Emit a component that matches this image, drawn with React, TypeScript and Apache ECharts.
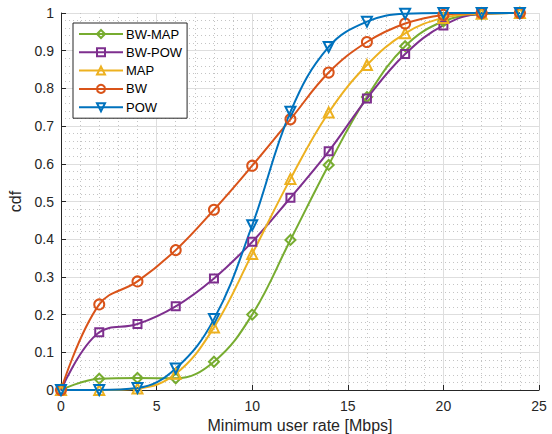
import React, { useEffect, useRef } from "react";
import * as echarts from "echarts";

const rates = [0, 2, 4, 6, 8, 10, 12, 14, 16, 18, 20, 22, 24];
const bwMap = [0, 0.03, 0.032, 0.031, 0.075, 0.2, 0.398, 0.597, 0.777, 0.912, 0.978, 0.997, 1.0];
const bwPow = [0, 0.153, 0.175, 0.222, 0.296, 0.393, 0.51, 0.633, 0.773, 0.891, 0.967, 0.998, 1.0];
const mapVals = [0, 0.0, 0.004, 0.043, 0.166, 0.361, 0.56, 0.736, 0.862, 0.946, 0.987, 0.998, 1.0];
const bwVals = [0, 0.227, 0.288, 0.371, 0.478, 0.595, 0.718, 0.842, 0.923, 0.972, 0.995, 1.0, 1.0];
const powVals = [0, 0, 0.005, 0.057, 0.188, 0.437, 0.738, 0.91, 0.977, 0.998, 1.0, 1.0, 1.0];

const seriesDefs = [
  { name: "BW-MAP", data: bwMap, color: "#77AC30", symbol: "diamond", size: 10, rotate: 0 },
  { name: "BW-POW", data: bwPow, color: "#7E2F8E", symbol: "rect", size: 8, rotate: 0 },
  { name: "MAP", data: mapVals, color: "#EDB120", symbol: "triangle", size: 10, rotate: 0 },
  { name: "BW", data: bwVals, color: "#D95319", symbol: "circle", size: 10, rotate: 0 },
  { name: "POW", data: powVals, color: "#0072BD", symbol: "triangle", size: 10, rotate: 180 },
];

const FONT = "Liberation Sans, Arial, Helvetica, sans-serif";
const AX = "#262626";

export default function App() {
  const ref = useRef<HTMLDivElement>(null);
  useEffect(() => {
    if (!ref.current) return;
    const chart = echarts.init(ref.current, undefined, { renderer: "svg" });
    chart.setOption({
      animation: false,
      backgroundColor: "#ffffff",
      grid: { left: 61, right: 13, top: 13, bottom: 44, containLabel: false, outerBoundsMode: "none" },
      legend: {
        orient: "vertical",
        left: 73,
        top: 23,
        padding: [4, 5, 4, 5],
        itemGap: 4.3,
        itemWidth: 44,
        itemHeight: 10,
        backgroundColor: "#ffffff",
        borderColor: AX,
        borderWidth: 1,
        borderRadius: 0,
        textStyle: { fontFamily: FONT, fontSize: 13, lineHeight: 14, color: "#000", padding: [0, 0, 0, -2] },
        data: seriesDefs.map((s) => s.name),
      },
      xAxis: {
        type: "value",
        min: 0,
        max: 25,
        interval: 5,
        name: "Minimum user rate [Mbps]",
        nameLocation: "middle",
        nameGap: 27,
        nameTextStyle: { fontFamily: FONT, fontSize: 16, color: AX },
        axisLine: { show: true, onZero: false, lineStyle: { color: AX, width: 1 } },
        axisTick: { show: true, inside: true, length: 5, lineStyle: { color: AX } },
        axisLabel: { fontFamily: FONT, fontSize: 14, color: AX, margin: 9 },
        splitLine: { show: true, lineStyle: { color: "#dedede", width: 1 } },
        minorTick: { show: false, splitNumber: 5 },
        minorSplitLine: { show: true, lineStyle: { color: "#c4c4c4", width: 1, type: [1, 3] } },
      },
      yAxis: {
        type: "value",
        min: 0,
        max: 1,
        interval: 0.1,
        name: "cdf",
        nameLocation: "middle",
        nameGap: 31,
        nameTextStyle: { fontFamily: FONT, fontSize: 16, color: AX },
        axisLine: { show: true, onZero: false, lineStyle: { color: AX, width: 1 } },
        axisTick: { show: true, inside: true, length: 5, lineStyle: { color: AX } },
        axisLabel: { fontFamily: FONT, fontSize: 14, color: AX, margin: 7 },
        splitLine: { show: true, lineStyle: { color: "#dedede", width: 1 } },
        minorTick: { show: false, splitNumber: 5 },
        minorSplitLine: { show: true, lineStyle: { color: "#c4c4c4", width: 1, type: [1, 3] } },
      },
      series: seriesDefs.map((s) => ({
        name: s.name,
        type: "line",
        smooth: 0.4,
        data: rates.map((x, i) => [x, s.data[i]]),
        symbol: s.symbol,
        symbolSize: s.size,
        symbolRotate: s.rotate,
        showAllSymbol: true,
        color: s.color,
        lineStyle: { color: s.color, width: 2 },
        itemStyle: { color: "rgba(255,255,255,0)", borderColor: s.color, borderWidth: 2 },
        emphasis: { disabled: true },
      })),
    });
    return () => chart.dispose();
  }, []);
  return (
    <div
      ref={ref}
      style={{ position: "fixed", left: 0, top: 0, width: 552, height: 434, background: "#fff" }}
    />
  );
}
